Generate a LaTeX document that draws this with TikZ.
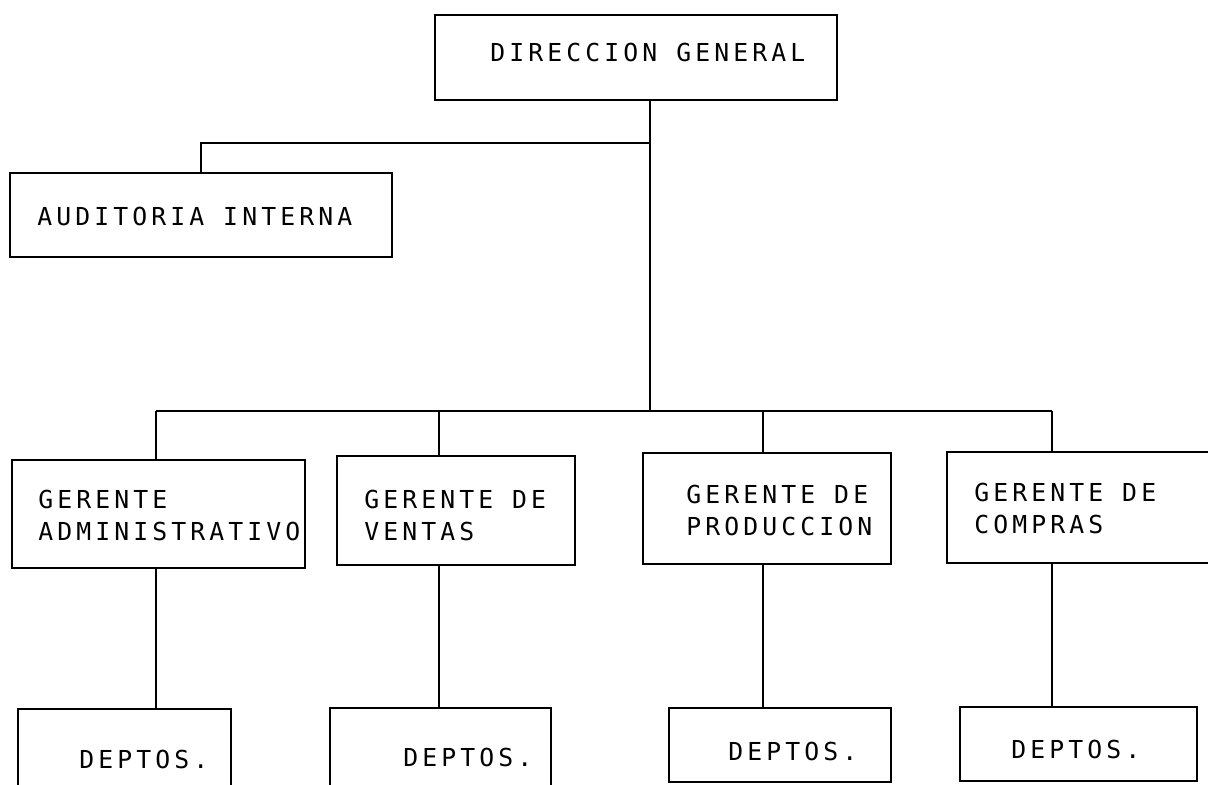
\documentclass[tikz,border=0pt]{standalone}
\usepackage{fontspec}
\usepackage{tikz}
\usetikzlibrary{fit}
\newfontfamily\dotfont{DejaVu Sans Mono}[LetterSpace=16.6]

\begin{document}
\begin{tikzpicture}[x=0.025cm,y=-0.025cm,
		box/.style={draw,line width=1.8pt,inner sep=0pt},
		link/.style={line width=1.3pt},
		txt/.style={anchor=north west,inner sep=0pt,align=left,
			font=\dotfont\fontsize{17.6pt}{22.8pt}\selectfont}]
			% The page
			\clip (0,0) rectangle (1208,784);

			% The boxes
			\node[box,fit={(435,15) (837,100)}] (dg) {};
			\node[box,fit={(10,173) (392,257)}] (aud) {};
			\node[box,fit={(12,460) (305,568)}] (ga) {};
			\node[box,fit={(337,456) (575,565)}] (gv) {};
			\node[box,fit={(643,453) (891,564)}] (gp) {};
			\node[box,fit={(947,452) (1220,563)}] (gc) {};
			\node[box,fit={(18,709) (231,800)}] (d1) {};
			\node[box,fit={(330,708) (551,800)}] (d2) {};
			\node[box,fit={(669,708) (891,782)}] (d3) {};
			\node[box,fit={(960,707) (1197,781)}] (d4) {};

			% The texts
			\node[txt] (dgt) at (490,43) {DIRECCION GENERAL};
			\node[txt] (audt) at (37,207) {AUDITORIA INTERNA};
			\node[txt] (gat) at (38,490) {GERENTE\\ADMINISTRATIVO};
			\node[txt] (gvt) at (364,490) {GERENTE DE\\VENTAS};
			\node[txt] (gpt) at (686,485) {GERENTE DE\\PRODUCCION};
			\node[txt] (gct) at (974,483) {GERENTE DE\\COMPRAS};
			\node[txt] (d1t) at (79,750) {DEPTOS.};
			\node[txt] (d2t) at (403,748) {DEPTOS.};
			\node[txt] (d3t) at (728,742) {DEPTOS.};
			\node[txt] (d4t) at (1011,740) {DEPTOS.};

			% The lines
			\coordinate (trunk) at (650,411);
			\coordinate (ja) at (650,143);
			\draw[link] (dg.south -| trunk) -- (trunk);
			\draw[link] (ja) -| (aud.north);
			\foreach \g/\d/\x in {ga/d1/156,gv/d2/439,gp/d3/763,gc/d4/1052} {
				\coordinate (c\d) at (\x,411);
				\draw[link] (c\d) -- (\g.north -| c\d);
				\draw[link] (\g.south -| c\d) -- (\d.north -| c\d);
			}
			\draw[link] (cd1) -- (cd4);
		\end{tikzpicture}
\end{document}
